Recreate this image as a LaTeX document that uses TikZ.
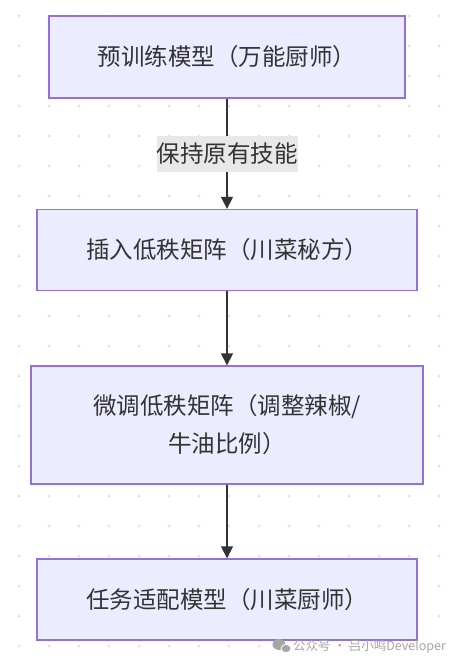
\documentclass[tikz,border=0pt]{standalone}
\usepackage{fontspec}
\setmainfont{Noto Sans CJK SC}
\usetikzlibrary{arrows.meta}
\definecolor{boxfill}{HTML}{ECECFF}
\definecolor{boxline}{HTML}{9370DB}
\definecolor{txt}{HTML}{333333}
\definecolor{lblbg}{HTML}{E8E8E8}
\definecolor{dotc}{HTML}{E0E0E0}
\definecolor{wm}{HTML}{A6A6A6}
\begin{document}
\begin{tikzpicture}[x=1pt,y=-1pt,
  stepbox/.style={draw=boxline,fill=boxfill,line width=1.3pt,text=txt,
    font=\fontsize{23.5}{38}\selectfont,inner sep=0pt,align=center},
  flow/.style={draw=txt,line width=1.3pt,-{Triangle[length=12pt,width=12pt]}},
  lbl/.style={fill=lblbg,text=txt,font=\fontsize{23.5}{28}\selectfont,
    inner xsep=0pt,inner ysep=0pt,minimum height=36pt},
  wmark/.style={text=wm,font=\fontsize{12.5}{14}\selectfont,inner sep=0pt}]
\fill[white] (0,0) rectangle (459,666);
\useasboundingbox (0,0) rectangle (459,666);
\foreach \x in {19,49,...,439}
  \foreach \y in {16,46,...,646}
    \fill[dotc] (\x,\y) circle (1.5);
\node[stepbox,minimum width=356pt,minimum height=82pt] (b1) at (227,57) {预训练模型（万能厨师）};
\node[stepbox,minimum width=380pt,minimum height=81pt] (b2) at (227,250) {插入低秩矩阵（川菜秘方）};
\node[stepbox,minimum width=392pt,minimum height=118pt] (b3) at (227,425) {微调低秩矩阵（调整辣椒/\\牛油比例）};
\node[stepbox,minimum width=380pt,minimum height=81pt] (b4) at (227,599.5) {任务适配模型（川菜厨师）};
\draw[flow] (b1) -- node[lbl] (l1) {保持原有技能} (b2);
\draw[flow] (b2) -- (b3);
\draw[flow] (b3) -- (b4);
\fill[wm] (279,644.5) ellipse (6.5 and 5.5);
\fill[wm,draw=white,line width=0.8pt] (286,648.5) ellipse (5 and 4.2);
\node[wmark,anchor=west] (wmt) at (293,646.5) {公众号 · 吕小鸣Developer};
\end{tikzpicture}
\end{document}
